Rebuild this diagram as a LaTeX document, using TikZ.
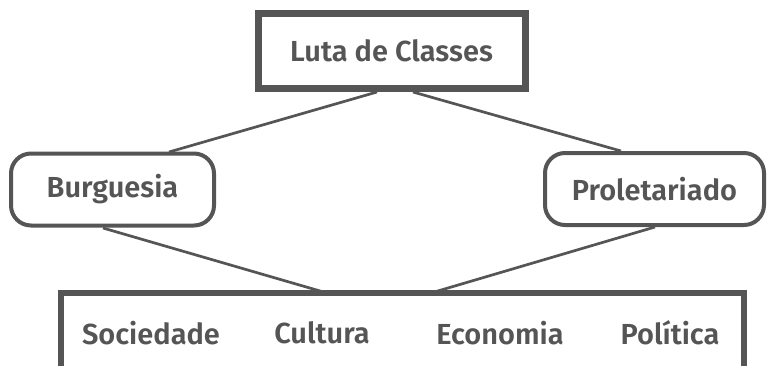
\documentclass[tikz,border=0pt]{standalone}
\usepackage{fontspec}
\setmainfont{Fira Sans}[UprightFont=* SemiBold]
\definecolor{ink}{HTML}{555555}
\tikzset{
  lbl/.style={text=ink, font=\fontsize{29}{32}\selectfont, inner sep=0pt},
  topbox/.style={draw=ink, line width=7pt, minimum width=267pt, minimum height=75pt, lbl},
  classbox/.style={draw=ink, line width=4pt, rounded corners=20pt, minimum height=72pt, lbl},
  conn/.style={draw=ink, line width=2.7pt},
  frame/.style={draw=ink, line width=6pt}
}
\begin{document}
\begin{tikzpicture}[x=1pt,y=-1pt]
\useasboundingbox (0,0) rectangle (768,365);
\clip (0,0) rectangle (768,365);
\node[topbox] (top) at (391.5,51) {Luta de Classes};
\node[classbox, minimum width=203pt] (burg) at (112.5,189.5) {Burguesia};
\node[classbox, minimum width=219pt] (prol) at (654.5,189) {Proletariado};
\coordinate (fl) at (61,293);
\coordinate (fr) at (744,293);
\coordinate (fbl) at (61,380);
\coordinate (fbr) at (744,380);
\path[frame] (fbl) -- (fl) -- (fr) -- (fbr);
\node[lbl] (soc) at (151,333) {Sociedade};
\node[lbl] (cul) at (322,333) {Cultura};
\node[lbl] (eco) at (500,333) {Economia};
\node[lbl] (pol) at (670,333) {Política};
\coordinate (tl) at (377,92);
\coordinate (tr) at (413,92);
\coordinate (bt) at (169,152);
\coordinate (pt) at (621,151);
\coordinate (bb) at (103,228);
\coordinate (pb) at (655,227);
\coordinate (ml) at (327,293);
\coordinate (mr) at (431,293);
\path[conn] (tl) -- (bt);
\path[conn] (tr) -- (pt);
\path[conn] (bb) -- (ml);
\path[conn] (pb) -- (mr);
\end{tikzpicture}
\end{document}
